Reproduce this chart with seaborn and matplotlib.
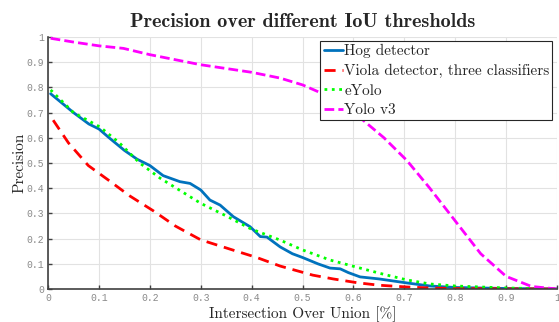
import matplotlib
matplotlib.use("Agg")
import matplotlib.pyplot as plt
import seaborn as sns
import pandas as pd

hog_x = [0.005, 0.02, 0.05, 0.08, 0.10, 0.12, 0.15, 0.175, 0.20, 0.226, 0.259, 0.279, 0.30, 0.318, 0.338,
         0.364, 0.397, 0.417, 0.43, 0.456, 0.48, 0.50, 0.53, 0.554, 0.574, 0.59, 0.613, 0.65, 0.705, 0.75,
         0.80, 0.90, 1.0]
hog_y = [0.775, 0.75, 0.70, 0.655, 0.635, 0.60, 0.55, 0.515, 0.49, 0.45, 0.426, 0.419, 0.393, 0.353, 0.333,
         0.287, 0.247, 0.208, 0.206, 0.167, 0.14, 0.125, 0.10, 0.083, 0.08, 0.065, 0.048, 0.04, 0.024, 0.012,
         0.006, 0.002, 0.0]

viola_x = [0.01, 0.04, 0.079, 0.12, 0.16, 0.207, 0.25, 0.30, 0.364, 0.41, 0.456, 0.52, 0.56, 0.607, 0.65,
           0.705, 0.75, 0.80, 0.90, 1.0]
viola_y = [0.67, 0.58, 0.49, 0.43, 0.37, 0.31, 0.25, 0.195, 0.154, 0.125, 0.091, 0.055, 0.04, 0.025, 0.015,
           0.008, 0.004, 0.002, 0.001, 0.0]

eyolo_x = [0.005, 0.05, 0.102, 0.14, 0.18, 0.22, 0.26, 0.30, 0.35, 0.397, 0.456, 0.50, 0.554, 0.613, 0.66,
           0.705, 0.75, 0.80, 0.90, 1.0]
eyolo_y = [0.79, 0.70, 0.643, 0.58, 0.50, 0.44, 0.39, 0.34, 0.29, 0.24, 0.194, 0.155, 0.115, 0.083, 0.058,
           0.036, 0.02, 0.012, 0.004, 0.0]

yolo_x = [0.005, 0.05, 0.10, 0.148, 0.20, 0.25, 0.30, 0.35, 0.40, 0.456, 0.50, 0.534, 0.57, 0.613, 0.66,
          0.705, 0.75, 0.80, 0.85, 0.90, 0.95, 1.0]
yolo_y = [0.995, 0.98, 0.965, 0.955, 0.93, 0.91, 0.89, 0.875, 0.86, 0.837, 0.81, 0.78, 0.74, 0.68, 0.60,
          0.51, 0.40, 0.27, 0.14, 0.05, 0.01, 0.0]

labels = ["Hog detector", "Viola detector, three classifiers", "eYolo", "Yolo v3"]
tick_labels = ["0", "0.1", "0.2", "0.3", "0.4", "0.5", "0.6", "0.7", "0.8", "0.9", "1"]

sns.set_theme(style="whitegrid")
plt.rcParams["font.family"] = ["DejaVu Serif"]

fig = plt.figure(figsize=(5.59, 3.22), dpi=100)
ax = fig.add_axes([0.086, 0.1025, 0.9105, 0.7825])

series = [
    (hog_x, hog_y, labels[0], "#0072BD", "-", None),
    (viola_x, viola_y, labels[1], "#FF0000", "--", (4, 2.5)),
    (eyolo_x, eyolo_y, labels[2], "#00FF00", ":", None),
    (yolo_x, yolo_y, labels[3], "#FF00FF", "--", (3.5, 1.5)),
]
for x, y, lab, col, ls, dash in series:
    df = pd.DataFrame({"x": x, "y": y})
    sns.lineplot(data=df, x="x", y="y", ax=ax, linestyle=ls, color=col, linewidth=2, label=lab)
    if dash is not None:
        ax.lines[-1].set_dashes(dash)

ax.set_xlim(0, 1)
ax.set_ylim(0, 1)
ax.set_xticks([i / 10 for i in range(11)])
ax.set_yticks([i / 10 for i in range(11)])
ax.set_xticklabels(tick_labels)
ax.set_yticklabels(tick_labels)
for t in ax.get_xticklabels() + ax.get_yticklabels():
    t.set_family("Liberation Mono")
    t.set_fontsize(7)
    t.set_color("#8a8a8a")
ax.tick_params(direction="in", length=3, width=1, color="#404040", pad=3, bottom=True, left=True)
ax.grid(True, color="#e2e2e2", linewidth=0.8)
for s in ["top", "right"]:
    ax.spines[s].set_visible(False)
for s in ["left", "bottom"]:
    ax.spines[s].set_color("#404040")
    ax.spines[s].set_linewidth(1.2)

ax.set_xlabel("Intersection Over Union [%]", family="cmr10", fontsize=11, labelpad=2)
ax.set_ylabel("Precision", family="cmr10", fontsize=11, labelpad=0)
ax.set_title("Precision over different IoU thresholds", family="cmb10", fontsize=14.5, pad=7)

leg = ax.legend(loc="upper right", bbox_to_anchor=(0.991, 0.985), prop={"family": "cmr10", "size": 11},
                frameon=True, fancybox=False, edgecolor="#262626", handlelength=1.3, handletextpad=0.05,
                borderpad=0.2, labelspacing=0.38, borderaxespad=0)
leg.get_frame().set_linewidth(0.8)
leg.get_frame().set_alpha(1)

fig.savefig("out.png", dpi=100)
